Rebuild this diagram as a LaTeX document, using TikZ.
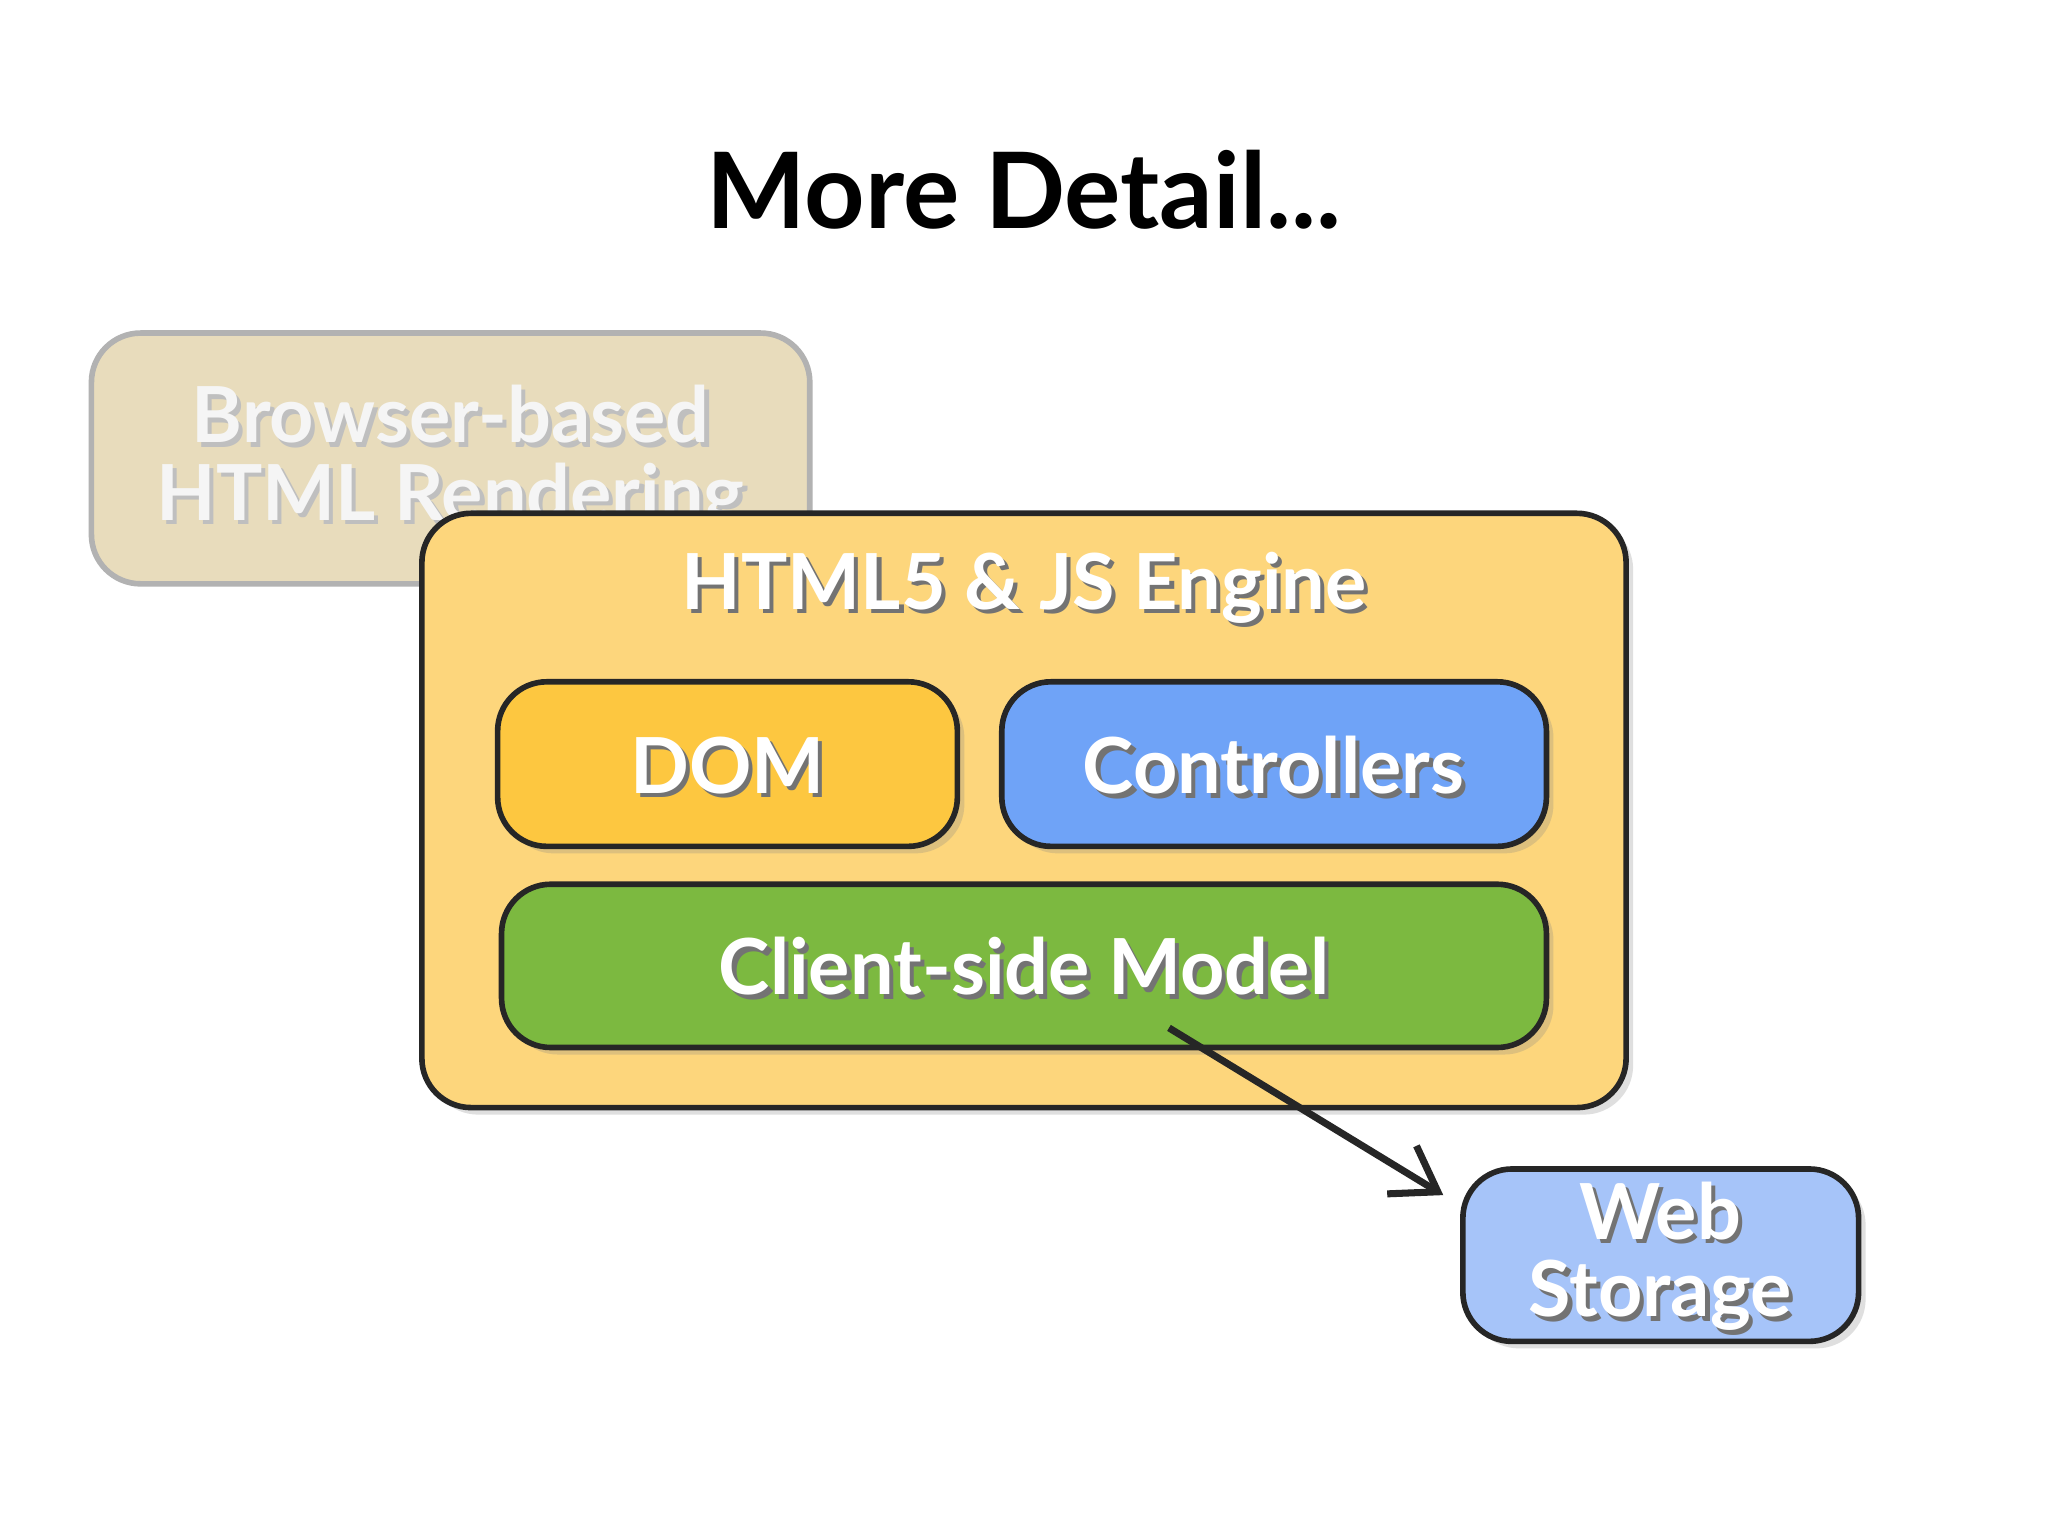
\documentclass[tikz,border=0pt]{standalone}
\usepackage{fontspec}
\setmainfont{Lato}
\usetikzlibrary{arrows.meta,shadows}
\definecolor{browserfill}{RGB}{232,220,188}
\newcommand\shtxt[4][white]{%
  \node[text=black!55,font=#4,align=center] at ([xshift=1.2pt,yshift=-1.2pt]#2) {#3};
  \node[text=#1,font=#4,align=center] at (#2) {#3};}
\begin{document}
\begin{tikzpicture}[x=0.013061cm,y=-0.013061cm,
  box/.style={draw=black!85,line width=1.6pt,rounded corners=14pt,drop shadow={shadow xshift=2pt,shadow yshift=-2pt,opacity=0.25}}]
\useasboundingbox (0,0) rectangle (1568,1176);
\fill[white] (0,0) rectangle (1568,1176);
\node[font=\bfseries\fontsize{30}{32}\selectfont] (title) at (784,145) {More Detail...};
\path[fill=browserfill,draw=black!30,line width=1.6pt,rounded corners=14pt] (70,255) rectangle (620,447);
\coordinate (bbc) at (345,352);
\node[text=black!25,font=\bfseries\fontsize{22}{26}\selectfont,align=center] at ([xshift=1.2pt,yshift=-1.2pt]bbc) {Browser-based\\[-4pt]HTML Rendering};
\node[text=white!92!gray,font=\bfseries\fontsize{22}{26}\selectfont,align=center] (bbt) at (bbc) {Browser-based\\[-4pt]HTML Rendering};
\path[box,fill={rgb,255:red,253;green,214;blue,124}] (323,393) rectangle (1245,848);
\coordinate (eng) at (784,450);
\shtxt{eng}{HTML5 \& JS Engine}{\bfseries\fontsize{22}{24}\selectfont}
\path[box,fill={rgb,255:red,253;green,199;blue,64}] (381,522) rectangle (733,648);
\coordinate (dom) at (557,586);
\shtxt{dom}{DOM}{\bfseries\fontsize{22}{24}\selectfont}
\path[box,fill={rgb,255:red,111;green,163;blue,247}] (767,522) rectangle (1184,648);
\coordinate (ctl) at (975,586);
\shtxt{ctl}{Controllers}{\bfseries\fontsize{22}{24}\selectfont}
\path[box,fill={rgb,255:red,124;green,185;blue,64}] (384,677) rectangle (1184,802);
\coordinate (mdl) at (784,740);
\shtxt{mdl}{Client-side Model}{\bfseries\fontsize{22}{24}\selectfont}
\path[box,fill={rgb,255:red,166;green,196;blue,249}] (1120,895) rectangle (1423,1027);
\coordinate (ws) at (1271,962);
\shtxt{ws}{Web\\[-4pt]Storage}{\bfseries\fontsize{22}{26}\selectfont}
\coordinate (a1) at (895,787);
\coordinate (a2) at (1105,915);
\draw[line width=2pt,black!85,-{Straight Barb[length=12pt,width=16pt]}] (a1) -- (a2);
\end{tikzpicture}
\end{document}
